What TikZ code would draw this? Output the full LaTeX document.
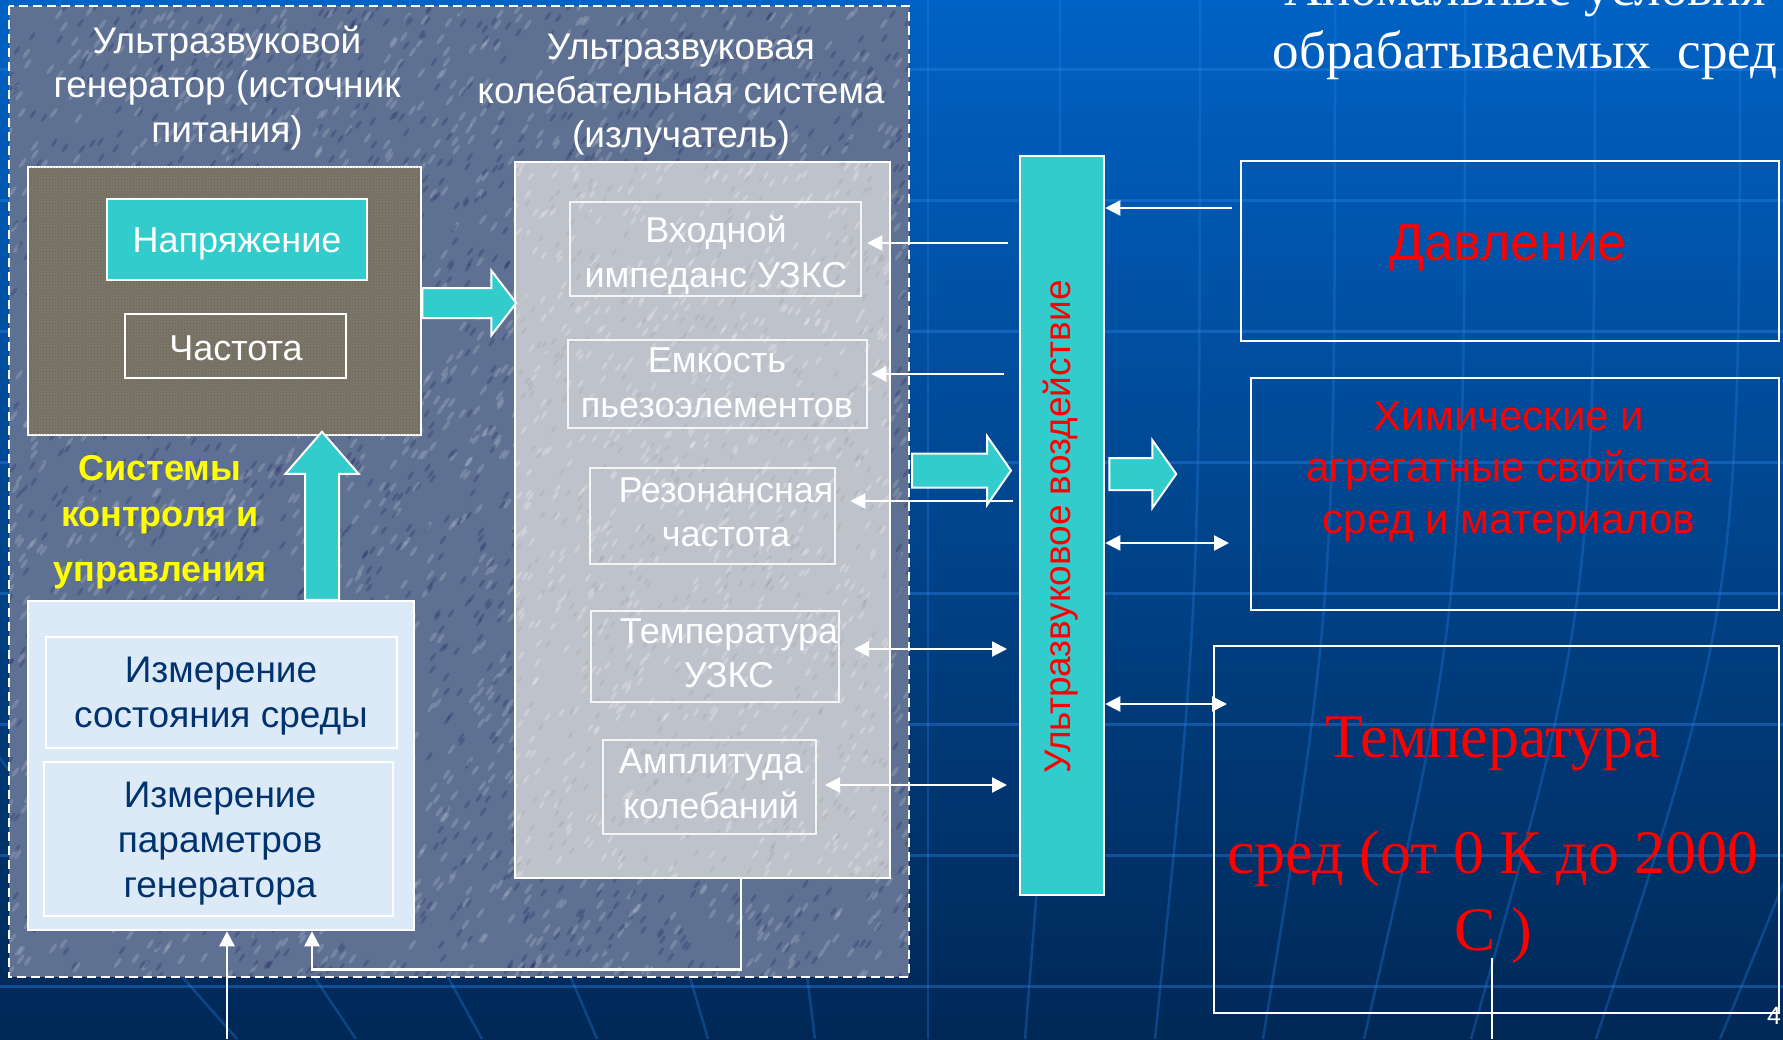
\documentclass[tikz,border=0pt]{standalone}
\usepackage{fontspec}
\setmainfont{Liberation Sans}
\newfontfamily\tnr{Liberation Serif}
\usetikzlibrary{arrows.meta,calc,patterns}
\definecolor{teal1}{RGB}{51,204,204}
\definecolor{stone}{RGB}{94,113,146}
\definecolor{burlap}{RGB}{124,119,105}
\definecolor{emitbg}{RGB}{190,194,203}
\definecolor{measbg}{RGB}{220,233,246}
\definecolor{navytext}{RGB}{0,51,110}
\definecolor{bgtop}{RGB}{0,98,196}
\definecolor{bgmid}{RGB}{0,72,150}
\definecolor{bgbot}{RGB}{0,40,86}
\definecolor{gridc}{RGB}{40,130,230}
\definecolor{ylw}{RGB}{255,255,0}
\newcommand\fsz[2]{\fontsize{#1}{#2}\selectfont}
\newcommand\mlines[2]{\vtop{\baselineskip=#1\relax\lineskiplimit=-500pt\lineskip=0pt\halign{\hfil##\hfil\cr#2\crcr}}}
\begin{document}
\begin{tikzpicture}[x=1pt,y=-1pt,
  box/.style={rectangle, draw=white, line width=2.5pt, inner sep=0pt},
  ibox/.style={rectangle, draw=white!92!gray, line width=2.5pt, inner sep=0pt},
  txt/.style={inner sep=0pt, anchor=base},
  blk/.style={fill=teal1, draw=white, line width=2pt},
  ar/.style={draw=white, line width=2.5pt, -{Triangle[length=15pt,width=15pt]}},
  dar/.style={draw=white, line width=2.5pt, {Triangle[length=15pt,width=15pt]}-{Triangle[length=15pt,width=15pt]}},
  pics/barrow/.style n args={4}{code={\draw[blk] (0,-#2) -- ({#1-#4},-#2) -- ({#1-#4},-#3) -- (#1,0) -- ({#1-#4},#3) -- ({#1-#4},#2) -- (0,#2) -- cycle;}}
]
\useasboundingbox (0,0) rectangle (1783,1039);
\clip (0,0) rectangle (1783,1039);
% background
\shade[top color=bgtop, middle color=bgmid, bottom color=bgbot] (0,0) rectangle (1783,1039);
\foreach \yy in {69,200,331,462,593,724,855,986}
  \draw[gridc, opacity=0.4, line width=3pt] (0,\yy) -- (1783,\yy);
\foreach \xb/\xt in {237/-150,356/60,482/240,597/410,708/580,815/760,928/928,1025/1060,1155/1200,1263/1335,1364/1465,1471/1595,1596/1740,1720/1900}
  \draw[gridc, opacity=0.32, line width=2.5pt] (\xt,0) .. controls (\xt,600) .. (\xb,1039);

% left panel
\node[rectangle, fill=stone, inner sep=0pt, minimum width=900pt, minimum height=971pt] (panel) at (459,491.5) {};
\begin{scope}
  \clip (10,7) rectangle (908,976);
  \pgfmathsetseed{7}
  \foreach \i in {1,...,1800}{
    \pgfmathsetmacro\px{9+900*rnd}
    \pgfmathsetmacro\py{6+971*rnd}
    \fill[white, opacity=0.16, rotate around={55:(\px,\py)}] (\px,\py) ellipse (6 and 1.8);
  }
  \foreach \i in {1,...,1800}{
    \pgfmathsetmacro\px{9+900*rnd}
    \pgfmathsetmacro\py{6+971*rnd}
    \fill[black!70!blue, opacity=0.18, rotate around={55:(\px,\py)}] (\px,\py) ellipse (5 and 1.6);
  }
\end{scope}
\draw[white, dash pattern=on 9pt off 5pt, line width=2.5pt] (panel.north west) rectangle (panel.south east);

% generator
\node[box, fill=burlap, minimum width=393pt, minimum height=268pt] (gen) at (224.5,301) {};
\fill[pattern=crosshatch dots, pattern color=black!80, opacity=0.35] ($(gen.north west)+(2,2)$) rectangle ($(gen.south east)+(-2,-2)$);
\node[box, fill=teal1, minimum width=260pt, minimum height=81pt] (volt) at (237,239.5) {};
\node[box, minimum width=221pt, minimum height=64pt] (freq) at (235.5,346) {};

% emitter
\node[box, fill=emitbg, minimum width=375pt, minimum height=716pt] (emit) at (702.5,520) {};
\begin{scope}
  \clip ($(emit.north west)+(2,2)$) rectangle ($(emit.south east)+(-2,-2)$);
  \pgfmathsetseed{11}
  \foreach \i in {1,...,700}{
    \pgfmathsetmacro\px{515+375*rnd}
    \pgfmathsetmacro\py{162+716*rnd}
    \fill[white, opacity=0.22, rotate around={55:(\px,\py)}] (\px,\py) ellipse (5 and 1.6);
  }
  \foreach \i in {1,...,500}{
    \pgfmathsetmacro\px{515+375*rnd}
    \pgfmathsetmacro\py{162+716*rnd}
    \fill[gray, opacity=0.15, rotate around={55:(\px,\py)}] (\px,\py) ellipse (4 and 1.4);
  }
\end{scope}
\node[ibox, minimum width=291pt, minimum height=94pt] (zin) at (715.5,249) {};
\node[ibox, minimum width=299pt, minimum height=88pt] (cap) at (717.5,384) {};
\node[ibox, minimum width=245pt, minimum height=96pt] (res) at (712.5,516) {};
\node[ibox, minimum width=248pt, minimum height=91pt] (tmp) at (715,656.5) {};
\node[ibox, minimum width=213pt, minimum height=94pt] (amp) at (709.5,787) {};

% measurement
\node[box, fill=measbg, minimum width=386pt, minimum height=329pt] (meas) at (221,765.5) {};
\node[box, line width=2pt, minimum width=351pt, minimum height=111pt] (m1) at (221.5,692.5) {};
\node[box, line width=2pt, minimum width=349pt, minimum height=154pt] (m2) at (218.5,839) {};

% bar and right boxes
\node[box, fill=teal1, minimum width=84pt, minimum height=739pt] (bar) at (1062,525.5) {};
\node[box, minimum width=538pt, minimum height=180pt] (press) at (1510,251) {};
\node[box, minimum width=528pt, minimum height=232pt] (chem) at (1515,494) {};
\node[box, minimum width=565pt, minimum height=367pt] (temp) at (1496.5,829.5) {};

% block arrows
\pic at (gen.east |- 0,303) {barrow={94}{15}{32.5}{25}};
\pic[rotate=90] at ($(meas.north)+(101,0)$) {barrow={168}{17}{36.5}{42}};
\pic at (912,470.5) {barrow={99}{17}{34.5}{24}};
\pic at ($(bar.east |- 0,474)+(4,0)$) {barrow={67}{16}{34}{24}};

% thin arrows
\coordinate (zinR) at (1008,243);
\coordinate (capR) at (1004,374);
\coordinate (resR) at (1013,501);
\coordinate (tmpL) at (854,649);
\coordinate (tmpR) at (1007,649);
\coordinate (ampL) at (825,785);
\coordinate (ampR) at (1007,785);
\coordinate (pressL) at (1232,208);
\coordinate (chemL) at (1229,543);
\coordinate (tempL) at (1227,704);
\draw[ar] (zinR) -- ($(zinR -| zin.east)+(5,0)$);
\draw[ar] (capR) -- ($(capR -| cap.east)+(3,0)$);
\draw[ar] (resR) -- ($(resR -| res.east)+(14,0)$);
\draw[dar] (tmpL) -- (tmpR);
\draw[dar] (ampL) -- (ampR);
\draw[ar] (pressL) -- (pressL -| bar.east);
\draw[dar] (chemL -| bar.east) -- (chemL);
\draw[dar] (tempL -| bar.east) -- (tempL);

% feedback
\draw[ar] ($(emit.south)+(38.5,0)$) -- ++(0,90) -| ($(meas.south)+(91,0)$);
\coordinate (bin) at (227,1039);
\draw[ar] (bin) -- (bin |- meas.south);
\coordinate (tl1) at (1492,958);
\coordinate (tl2) at (1492,1039);
\draw[white, line width=2pt] (tl1) -- (tl2);

% texts
\node[txt, text=white] (gentitle) at (227,53) {\fsz{37}{44}\mlines{44.5pt}{Ультразвуковой\cr генератор (источник\cr питания)}};
\node[txt, text=white] (emtitle) at (681,59) {\fsz{37}{44}\mlines{44pt}{Ультразвуковая\cr колебательная система\cr (излучатель)}};
\node[txt, text=white] (voltT) at (237,252) {\fsz{36}{43}Напряжение};
\node[txt, text=white] (freqT) at (236,360) {\fsz{36}{43}Частота};
\node[txt, text=white] (zinT) at (716,242) {\fsz{36}{43}\mlines{45pt}{Входной\cr импеданс УЗКС}};
\node[txt, text=white] (capT) at (717,372) {\fsz{36}{43}\mlines{45pt}{Емкость\cr пьезоэлементов}};
\node[txt, text=white] (resT) at (726,502) {\fsz{36}{43}\mlines{44pt}{Резонансная\cr частота}};
\node[txt, text=white] (tmpT) at (729,643) {\fsz{36}{43}\mlines{44pt}{Температура\cr УЗКС}};
\node[txt, text=white] (ampT) at (711,773) {\fsz{36}{43}\mlines{45pt}{Амплитуда\cr колебаний}};
\node[txt, text=ylw] (sysT) at (160,480) {\fsz{36}{43}\bfseries\mlines{46pt}{Системы\cr контроля и\cr\noalign{\vskip 9pt}управления}};
\node[txt, text=navytext] (m1T) at (221,682) {\fsz{37}{44}\mlines{45pt}{Измерение\cr состояния среды}};
\node[txt, text=navytext] (m2T) at (220,807) {\fsz{37}{44}\mlines{45pt}{Измерение\cr параметров\cr генератора}};
\node[txt, text=red, rotate=90] (barT) at (1070,527) {\fsz{37}{44}Ультразвуковое воздействие};
\node[txt, text=red] (pressT) at (1508,260) {\fsz{52}{62}Давление};
\node[txt, text=red] (chemT) at (1509,430) {\fsz{42}{50}\mlines{51.5pt}{Химические и\cr агрегатные свойства\cr сред и материалов}};
\node[txt, text=red] (tempT) at (1493,757) {\tnr\fsz{62}{77}\mlines{77pt}{Температура\cr\noalign{\vskip 39pt}сред (от 0 К до 2000\cr С )}};
\node[txt, text=white] (title) at (1525,5) {\tnr\fsz{53}{63}\mlines{63pt}{Аномальные условия\cr обрабатываемых\ \ сред}};
\node[inner sep=0pt, anchor=base west, text=white] (pageT) at (1767,1024) {\fsz{25}{30}4};
\end{tikzpicture}
\end{document}
